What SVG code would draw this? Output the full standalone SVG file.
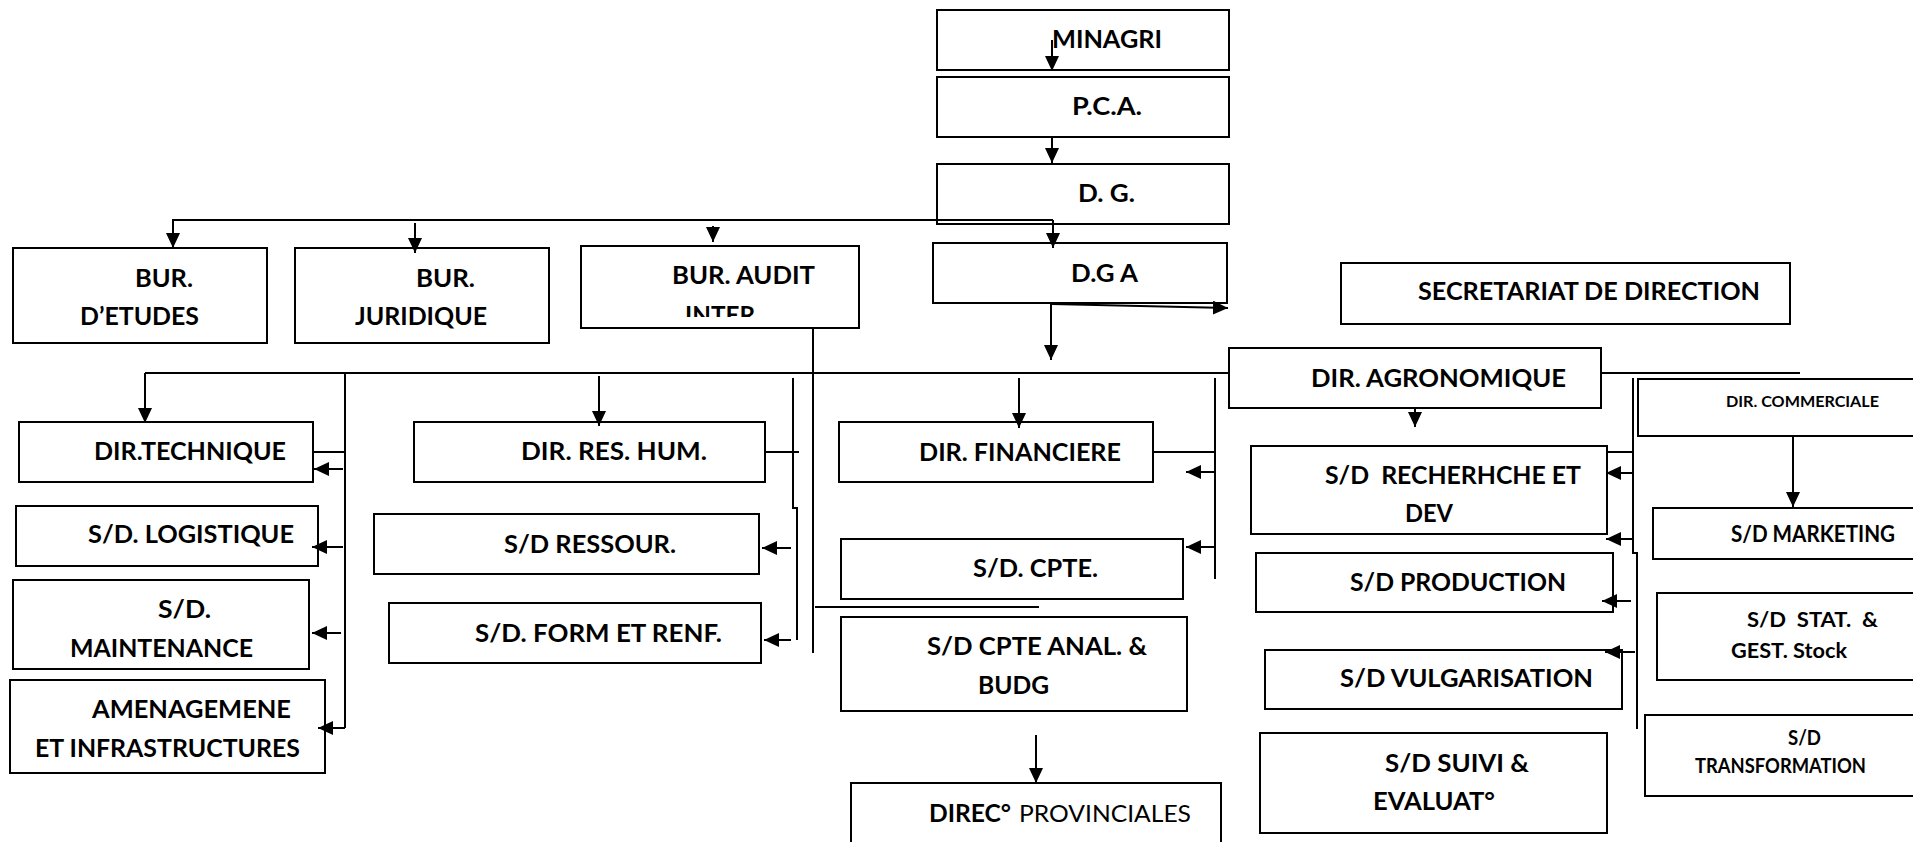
<svg xmlns="http://www.w3.org/2000/svg" width="1913" height="842" viewBox="0 0 1913 842">
  <style>
    .box { fill: #fff; stroke: #000; stroke-width: 2; }
    .t { font-family: Lato, "Open Sans", "Liberation Sans", sans-serif; font-weight: bold; font-size: 24px; fill: #000; }
    .s22 { font-size: 22px; }
    .s21 { font-size: 21px; }
    .s20 { font-size: 20px; }
    .s16 { font-size: 16px; }
    .reg { font-weight: normal; }
    .ln { fill: none; stroke: #000; stroke-width: 2; }
    .ar { fill: none; stroke: #000; stroke-width: 2; marker-end: url(#head); }
  </style>
  <defs>
    <marker id="head" markerUnits="userSpaceOnUse" markerWidth="15" markerHeight="14" viewBox="0 0 15 14" refX="15" refY="7" orient="auto">
      <path d="M0,0 L15,7 L0,14 z" fill="#000"/>
    </marker>
    <clipPath id="auditClip">
      <rect x="581" y="246" width="278" height="71"/>
    </clipPath>
  </defs>

  <rect width="1913" height="842" fill="#fff"/>

  <!-- top chain -->
  <g id="minagri">
    <rect class="box" x="937" y="10" width="292" height="60"/>
    <text class="t" x="1052" y="48" textLength="110" lengthAdjust="spacingAndGlyphs">MINAGRI</text>
  </g>
  <g id="pca">
    <rect class="box" x="937" y="77" width="292" height="60"/>
    <text class="t" x="1072" y="115" textLength="70" lengthAdjust="spacingAndGlyphs">P.C.A.</text>
  </g>
  <g id="dg">
    <rect class="box" x="937" y="164" width="292" height="60"/>
    <text class="t" x="1078" y="202" textLength="57" lengthAdjust="spacingAndGlyphs">D. G.</text>
  </g>
  <g id="dga">
    <rect class="box" x="933" y="243" width="294" height="60"/>
    <text class="t" x="1071" y="282" textLength="67" lengthAdjust="spacingAndGlyphs">D.G A</text>
  </g>

  <!-- offices -->
  <g id="bur-etudes">
    <rect class="box" x="13" y="248" width="254" height="95"/>
    <text class="t" x="135" y="287" textLength="58" lengthAdjust="spacingAndGlyphs">BUR.</text>
    <text class="t" x="80" y="325" textLength="119" lengthAdjust="spacingAndGlyphs">D’ETUDES</text>
  </g>
  <g id="bur-juridique">
    <rect class="box" x="295" y="248" width="254" height="95"/>
    <text class="t" x="416" y="287" textLength="59" lengthAdjust="spacingAndGlyphs">BUR.</text>
    <text class="t" x="355" y="325" textLength="132" lengthAdjust="spacingAndGlyphs">JURIDIQUE</text>
  </g>
  <g id="bur-audit">
    <rect class="box" x="581" y="246" width="278" height="82"/>
    <text class="t" x="672" y="284" textLength="143" lengthAdjust="spacingAndGlyphs">BUR. AUDIT</text>
    <text class="t" x="685" y="324" textLength="70" lengthAdjust="spacingAndGlyphs" clip-path="url(#auditClip)">INTER</text>
  </g>
  <g id="secretariat">
    <rect class="box" x="1341" y="263" width="449" height="61"/>
    <text class="t" x="1418" y="300" textLength="342" lengthAdjust="spacingAndGlyphs">SECRETARIAT DE DIRECTION</text>
  </g>

  <!-- directions -->
  <g id="dir-technique">
    <rect class="box" x="19" y="422" width="294" height="60"/>
    <text class="t" x="94" y="460" textLength="192" lengthAdjust="spacingAndGlyphs">DIR.TECHNIQUE</text>
  </g>
  <g id="dir-rh">
    <rect class="box" x="414" y="422" width="351" height="60"/>
    <text class="t" x="521" y="460" textLength="186" lengthAdjust="spacingAndGlyphs">DIR. RES. HUM.</text>
  </g>
  <g id="dir-financiere">
    <rect class="box" x="839" y="422" width="314" height="60"/>
    <text class="t" x="919" y="461" textLength="202" lengthAdjust="spacingAndGlyphs">DIR. FINANCIERE</text>
  </g>
  <g id="dir-agronomique">
    <rect class="box" x="1229" y="348" width="372" height="60"/>
    <text class="t" x="1311" y="387" textLength="255" lengthAdjust="spacingAndGlyphs">DIR. AGRONOMIQUE</text>
  </g>
  <g id="dir-commerciale">
    <rect class="box" x="1638" y="379" width="290" height="57"/>
    <text class="t s16" x="1726" y="407" textLength="153" lengthAdjust="spacingAndGlyphs">DIR. COMMERCIALE</text>
  </g>

  <!-- technical sub-directions -->
  <g id="sd-logistique">
    <rect class="box" x="16" y="506" width="302" height="60"/>
    <text class="t" x="88" y="543" textLength="206" lengthAdjust="spacingAndGlyphs">S/D. LOGISTIQUE</text>
  </g>
  <g id="sd-maintenance">
    <rect class="box" x="13" y="580" width="296" height="89"/>
    <text class="t" x="158" y="618" textLength="53" lengthAdjust="spacingAndGlyphs">S/D.</text>
    <text class="t" x="70" y="657" textLength="183" lengthAdjust="spacingAndGlyphs">MAINTENANCE</text>
  </g>
  <g id="amenagement">
    <rect class="box" x="10" y="680" width="315" height="93"/>
    <text class="t" x="92" y="718" textLength="199" lengthAdjust="spacingAndGlyphs">AMENAGEMENE</text>
    <text class="t" x="35" y="757" textLength="265" lengthAdjust="spacingAndGlyphs">ET INFRASTRUCTURES</text>
  </g>

  <!-- human resources sub-directions -->
  <g id="sd-ressour">
    <rect class="box" x="374" y="514" width="385" height="60"/>
    <text class="t" x="504" y="553" textLength="172" lengthAdjust="spacingAndGlyphs">S/D RESSOUR.</text>
  </g>
  <g id="sd-form">
    <rect class="box" x="389" y="603" width="372" height="60"/>
    <text class="t" x="475" y="642" textLength="247" lengthAdjust="spacingAndGlyphs">S/D. FORM ET RENF.</text>
  </g>

  <!-- finance sub-directions -->
  <g id="sd-cpte">
    <rect class="box" x="841" y="539" width="342" height="60"/>
    <text class="t" x="973" y="577" textLength="125" lengthAdjust="spacingAndGlyphs">S/D. CPTE.</text>
  </g>
  <g id="sd-cpte-anal">
    <rect class="box" x="841" y="617" width="346" height="94"/>
    <text class="t" x="927" y="655" textLength="220" lengthAdjust="spacingAndGlyphs">S/D CPTE ANAL. &amp;</text>
    <text class="t" x="978" y="694" textLength="71" lengthAdjust="spacingAndGlyphs">BUDG</text>
  </g>
  <g id="direc-provinciales">
    <rect class="box" x="851" y="783" width="370" height="80"/>
    <text class="t" x="929" y="822" textLength="82" lengthAdjust="spacingAndGlyphs">DIREC°</text>
    <text class="t reg" x="1019" y="822" textLength="172" lengthAdjust="spacingAndGlyphs">PROVINCIALES</text>
  </g>

  <!-- agronomic sub-directions -->
  <g id="sd-recherche">
    <rect class="box" x="1251" y="446" width="356" height="88"/>
    <text class="t" x="1325" y="484" textLength="256" lengthAdjust="spacingAndGlyphs" xml:space="preserve">S/D  RECHERHCHE ET</text>
    <text class="t" x="1405" y="522" textLength="48" lengthAdjust="spacingAndGlyphs">DEV</text>
  </g>
  <g id="sd-production">
    <rect class="box" x="1256" y="553" width="357" height="59"/>
    <text class="t" x="1350" y="591" textLength="216" lengthAdjust="spacingAndGlyphs">S/D PRODUCTION</text>
  </g>
  <g id="sd-vulgarisation">
    <rect class="box" x="1265" y="650" width="357" height="59"/>
    <text class="t" x="1340" y="687" textLength="253" lengthAdjust="spacingAndGlyphs">S/D VULGARISATION</text>
  </g>
  <g id="sd-suivi">
    <rect class="box" x="1260" y="733" width="347" height="100"/>
    <text class="t" x="1385" y="772" textLength="144" lengthAdjust="spacingAndGlyphs">S/D SUIVI &amp;</text>
    <text class="t" x="1373" y="810" textLength="122" lengthAdjust="spacingAndGlyphs">EVALUAT°</text>
  </g>

  <!-- commercial sub-directions -->
  <g id="sd-marketing">
    <rect class="box" x="1653" y="508" width="275" height="51"/>
    <text class="t s22" x="1731" y="542" textLength="164" lengthAdjust="spacingAndGlyphs">S/D MARKETING</text>
  </g>
  <g id="sd-stat">
    <rect class="box" x="1657" y="593" width="271" height="87"/>
    <text class="t s21" x="1747" y="627" textLength="131" lengthAdjust="spacingAndGlyphs" xml:space="preserve">S/D  STAT.  &amp;</text>
    <text class="t s21" x="1731" y="658" textLength="116" lengthAdjust="spacingAndGlyphs">GEST. Stock</text>
  </g>
  <g id="sd-transformation">
    <rect class="box" x="1645" y="715" width="283" height="81"/>
    <text class="t s20" x="1788" y="745" textLength="33" lengthAdjust="spacingAndGlyphs">S/D</text>
    <text class="t s20" x="1695" y="773" textLength="171" lengthAdjust="spacingAndGlyphs">TRANSFORMATION</text>
  </g>

  <g id="connectors">
    <!-- top chain -->
    <path class="ar" d="M1052,40 V71"/>
    <path class="ar" d="M1052,137 V163"/>
    <path class="ar" d="M1053,220 H173 V248"/>
    <path class="ar" d="M1053,220 V248"/>
    <path class="ar" d="M415,223 V253"/>
    <path class="ar" d="M713,226 V242"/>
    <path class="ar" d="M1051,303 V360"/>
    <path class="ar" d="M1052,304 L1228,308"/>
    <path class="ln" d="M813,328 V653"/>

    <!-- main distribution bus -->
    <path class="ln" d="M145,373 H1229"/>
    <path class="ln" d="M1601,373 H1800"/>
    <path class="ar" d="M145,373 V423"/>
    <path class="ar" d="M599,376 V426"/>
    <path class="ar" d="M1019,378 V428"/>

    <!-- technical branch -->
    <path class="ln" d="M345,373 V728"/>
    <path class="ln" d="M313,452 H344"/>
    <path class="ar" d="M343,469 H314"/>
    <path class="ar" d="M343,547 H312"/>
    <path class="ar" d="M341,633 H312"/>
    <path class="ar" d="M345,728 H318"/>

    <!-- human resources branch -->
    <path class="ln" d="M765,452 H799"/>
    <path class="ln" d="M793,378 V508 H797 V640"/>
    <path class="ar" d="M791,548 H762"/>
    <path class="ar" d="M791,640 H764"/>
    <path class="ln" d="M815,607 H1039"/>

    <!-- finance branch -->
    <path class="ln" d="M1215,378 V579"/>
    <path class="ln" d="M1153,452 H1215"/>
    <path class="ar" d="M1215,472 H1186"/>
    <path class="ar" d="M1215,547 H1186"/>
    <path class="ar" d="M1036,735 V783"/>

    <!-- agronomic branch -->
    <path class="ar" d="M1415,408 V427"/>
    <path class="ln" d="M1633,378 V553 H1637 V729"/>
    <path class="ln" d="M1607,452 H1633"/>
    <path class="ar" d="M1633,473 H1606"/>
    <path class="ar" d="M1633,539 H1606"/>
    <path class="ar" d="M1631,601 H1602"/>
    <path class="ar" d="M1635,652 H1605"/>

    <!-- commercial branch -->
    <path class="ar" d="M1793,436 V507"/>
  </g>
</svg>
